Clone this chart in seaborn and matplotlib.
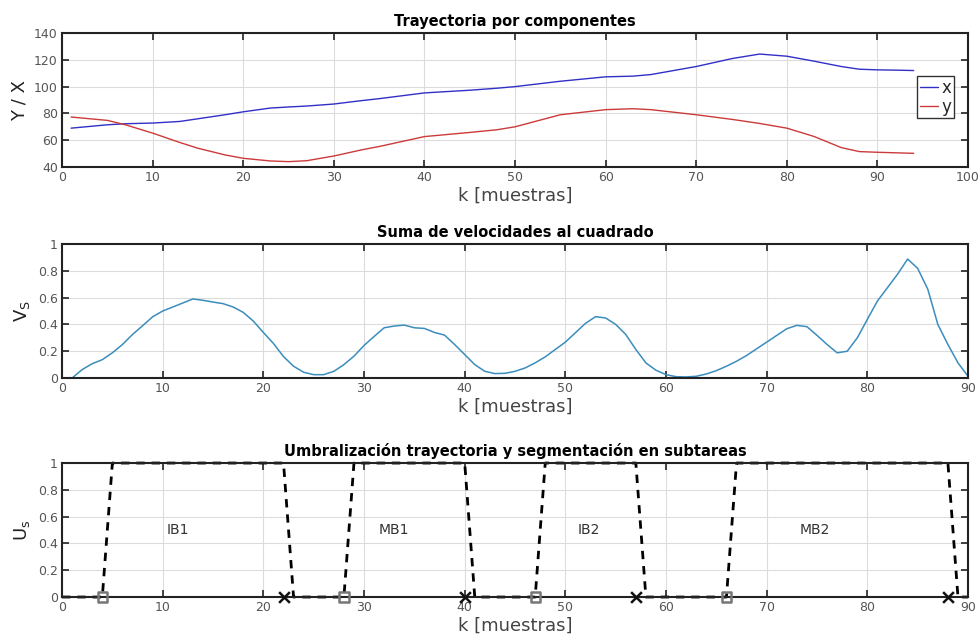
import numpy as np
import pandas as pd
import matplotlib
matplotlib.use("Agg")
import matplotlib.pyplot as plt
import seaborn as sns

# ---------------- data ----------------
k_traj = [1, 5, 7, 10, 13, 15, 18, 20, 23, 25, 27, 30, 33, 35, 40, 45, 48, 50,
          55, 60, 63, 65, 70, 74, 77, 80, 83, 86, 88, 90, 92, 94]
x_vals = [69, 71.5, 72.3, 72.8, 74, 76, 79, 81.2, 84, 84.8, 85.5, 87, 89.5, 91, 95.3, 97.3, 98.8, 100,
          104, 107.3, 107.8, 109, 115, 121, 124.3, 122.7, 119, 115, 113, 112.5, 112.3, 112]
y_vals = [77.3, 74.8, 71.5, 65.3, 58.3, 54, 49, 46.5, 44.5, 44, 44.7, 48.2, 52.7, 55.3, 62.7, 65.8, 67.8, 70,
          79, 82.8, 83.5, 82.8, 79, 75.5, 72.5, 69, 62.8, 54.5, 51.5, 51, 50.6, 50.2]

k_vel = list(range(1, 91))
v_vals = [0.0, 0.063, 0.107, 0.137, 0.188, 0.25, 0.325, 0.39, 0.457, 0.5,
          0.53, 0.56, 0.59, 0.58, 0.567, 0.555, 0.53, 0.49, 0.425, 0.34,
          0.258, 0.16, 0.088, 0.043, 0.025, 0.025, 0.05, 0.1, 0.163, 0.243,
          0.31, 0.375, 0.388, 0.395, 0.375, 0.37, 0.34, 0.32, 0.25, 0.175,
          0.1, 0.05, 0.033, 0.035, 0.05, 0.075, 0.113, 0.158, 0.213, 0.268,
          0.338, 0.408, 0.458, 0.448, 0.4, 0.325, 0.213, 0.113, 0.058, 0.025,
          0.01, 0.008, 0.013, 0.03, 0.055, 0.088, 0.125, 0.168, 0.218, 0.268,
          0.318, 0.368, 0.393, 0.383, 0.318, 0.25, 0.188, 0.2, 0.3, 0.438,
          0.575, 0.675, 0.775, 0.888, 0.818, 0.663, 0.4, 0.25, 0.113, 0.013]

k_step = [0, 4, 5, 22, 23, 28, 29, 40, 41, 47, 48, 57, 58, 66, 67, 88, 89, 90]
u_step = [0, 0, 1, 1, 0, 0, 1, 1, 0, 0, 1, 1, 0, 0, 1, 1, 0, 0]
k_start = [4, 28, 47, 66]
k_end = [22, 40, 57, 88]
seg_labels = ["IB1", "MB1", "IB2", "MB2"]
seg_pos = [11.5, 33, 52.3, 74.8]

# ---------------- style ----------------
sns.set_theme(style="ticks")
plt.rcParams['font.family'] = ['DejaVu Sans']

fig = plt.figure(figsize=(9.8, 6.35), dpi=100)
left, width, height = 0.0633, 0.9245, 0.211
ax1 = fig.add_axes([left, 0.737, width, height])
ax2 = fig.add_axes([left, 0.4047, width, height])
ax3 = fig.add_axes([left, 0.0598, width, height])

def style(ax, title, ylabel):
    ax.grid(True, color='#dcdcdc', linewidth=0.8)
    ax.set_axisbelow(True)
    ax.tick_params(direction='in', top=True, right=True, length=5, width=1.3,
                   labelsize=9, labelcolor='#555555', color='#333333', pad=3)
    for s in ax.spines.values():
        s.set_color('#222222')
        s.set_linewidth(1.5)
        s.set_zorder(3)
    ax.set_title(title, fontsize=10.5, fontweight='bold', pad=5, color='black')
    ax.set_xlabel('k [muestras]', fontsize=13, color='#444444', labelpad=2)
    ax.set_ylabel(ylabel, fontsize=13, color='#222222', labelpad=4)

# Panel 1
df1 = pd.DataFrame({'k': k_traj * 2, 'val': x_vals + y_vals,
                    'comp': ['x'] * len(k_traj) + ['y'] * len(k_traj)})
sns.lineplot(data=df1, x='k', y='val', hue='comp',
             palette={'x': '#3030c8', 'y': '#cc3a3a'}, linewidth=1.0, ax=ax1)
ax1.set_xlim(0, 100)
ax1.set_ylim(40, 140)
ax1.set_xticks(range(0, 101, 10))
ax1.set_yticks(range(40, 141, 20))
style(ax1, 'Trayectoria por componentes', 'Y / X')
leg = ax1.legend(loc='center right', bbox_to_anchor=(0.984, 0.52), fontsize=12,
                 handlelength=1.1, handletextpad=0.2, borderpad=0.15,
                 labelspacing=0.05, borderaxespad=0, fancybox=False, framealpha=1)
leg.get_frame().set_edgecolor('#333333')
leg.get_frame().set_linewidth(1.0)

# Panel 2
df2 = pd.DataFrame({'k': k_vel, 'v': v_vals})
sns.lineplot(data=df2, x='k', y='v', color='#3b8dbd', linewidth=1.1, ax=ax2)
ax2.set_xlim(0, 90)
ax2.set_ylim(0, 1)
ax2.set_xticks(range(0, 91, 10))
ax2.set_yticks([0, 0.2, 0.4, 0.6, 0.8, 1])
ax2.set_yticklabels(['0', '0.2', '0.4', '0.6', '0.8', '1'])
style(ax2, 'Suma de velocidades al cuadrado', r'V$_{\mathrm{S}}$')

# Panel 3
df3 = pd.DataFrame({'k': k_step, 'u': u_step})
sns.lineplot(data=df3, x='k', y='u', color='black', linewidth=2.0,
             linestyle=(0, (3, 2.5)), ax=ax3, sort=False, clip_on=False, zorder=2)
sns.scatterplot(x=k_start, y=[0] * len(k_start), marker='s', s=45,
                facecolor='none', edgecolor='#777777', linewidth=1.8, ax=ax3,
                clip_on=False, zorder=4)
sns.scatterplot(x=k_end, y=[0] * len(k_end), marker='x', s=60,
                color='#111111', linewidth=1.8, ax=ax3, clip_on=False, zorder=4)
for lab, pos in zip(seg_labels, seg_pos):
    ax3.text(pos, 0.5, lab, fontsize=10, color='#333333', ha='center', va='center')
ax3.set_xlim(0, 90)
ax3.set_ylim(0, 1)
ax3.set_xticks(range(0, 91, 10))
ax3.set_yticks([0, 0.2, 0.4, 0.6, 0.8, 1])
ax3.set_yticklabels(['0', '0.2', '0.4', '0.6', '0.8', '1'])
style(ax3, 'Umbralización trayectoria y segmentación en subtareas', r'U$_{\mathrm{s}}$')

fig.savefig('out.png', dpi=100)
